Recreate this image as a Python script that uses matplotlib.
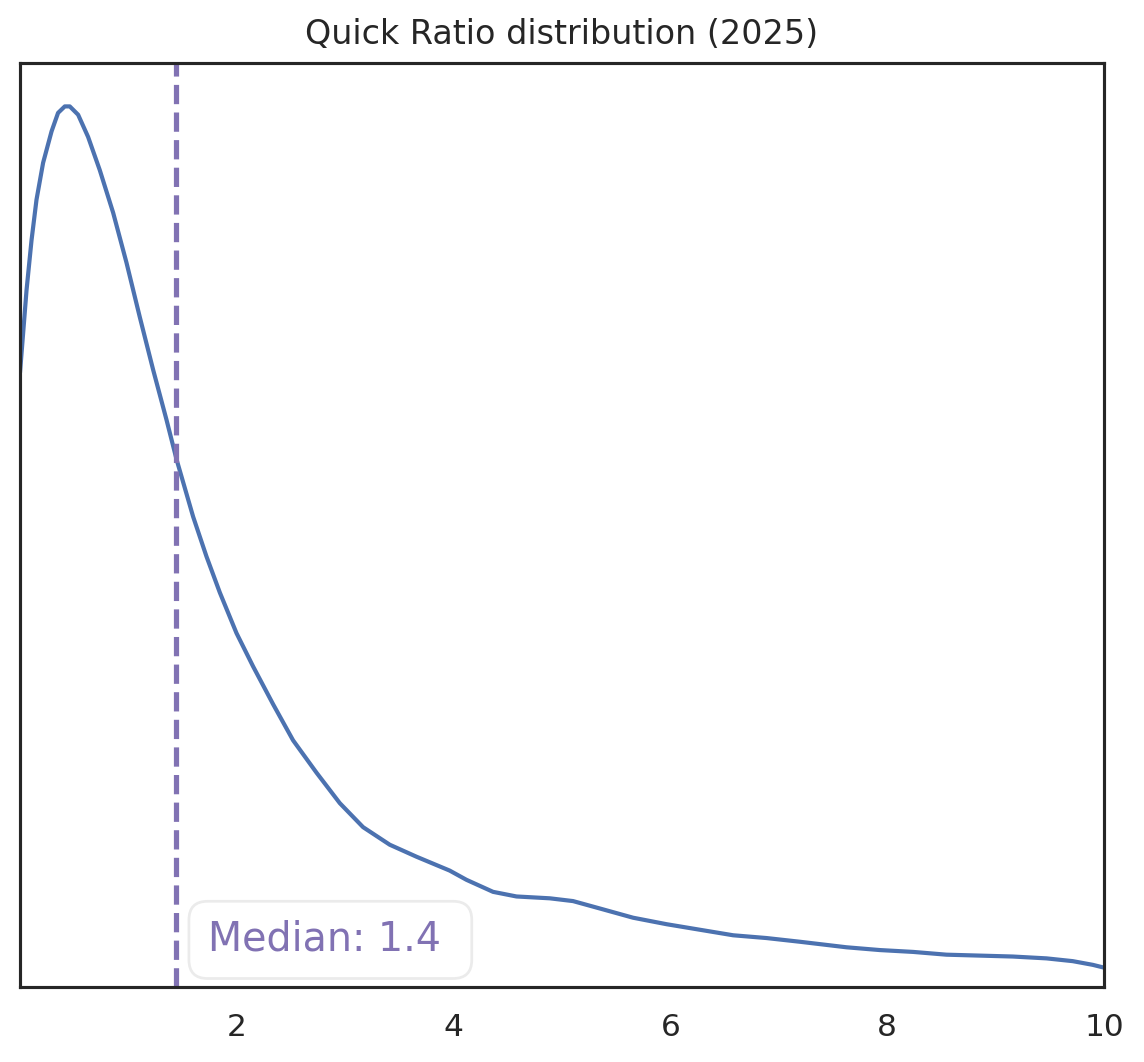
import matplotlib
matplotlib.use('Agg')
import matplotlib.pyplot as plt
import seaborn as sns

sns.set_theme(style='white')

# Curva de densidad (x = Quick Ratio, y = densidad relativa)
quick_ratio = [0.000, 0.060, 0.106, 0.152, 0.213, 0.291, 0.351, 0.413, 0.459, 0.536,
               0.628, 0.736, 0.859, 0.982, 1.105, 1.228, 1.351, 1.444, 1.597, 1.720,
               1.843, 1.997, 2.150, 2.335, 2.519, 2.735, 2.950, 3.165, 3.411, 3.658,
               3.964, 4.119, 4.364, 4.580, 4.888, 5.102, 5.349, 5.656, 5.964, 6.271,
               6.579, 6.887, 7.194, 7.625, 7.932, 8.239, 8.547, 8.854, 9.159, 9.470,
               9.712, 9.897, 10.000]
densidad = [0.665, 0.754, 0.808, 0.852, 0.892, 0.926, 0.946, 0.953, 0.953, 0.944,
            0.920, 0.884, 0.838, 0.784, 0.725, 0.668, 0.614, 0.571, 0.509, 0.466,
            0.427, 0.383, 0.347, 0.306, 0.267, 0.232, 0.199, 0.173, 0.154, 0.141,
            0.126, 0.116, 0.103, 0.098, 0.096, 0.093, 0.085, 0.075, 0.068, 0.062,
            0.056, 0.053, 0.049, 0.043, 0.040, 0.038, 0.035, 0.034, 0.033, 0.031,
            0.028, 0.024, 0.021]
mediana = 1.44
xticks = [2, 4, 6, 8, 10]

fig = plt.figure(figsize=(1144 / 150, 1062 / 150), dpi=150)
ax = fig.add_axes([0.0175, 0.0706, 0.9475, 0.8701])

ax.plot(quick_ratio, densidad, color='#4C72B0', linewidth=2)
ax.axvline(mediana, color='#8172B3', linestyle='--', linewidth=2.5)
ax.text(0.173, 0.051, f'Median: {mediana:.1f} ', transform=ax.transAxes,
        ha='left', va='center', fontsize=19, color='#8172B3',
        bbox=dict(boxstyle='round,pad=0.47', facecolor='white',
                  edgecolor='#ebebeb', linewidth=1.3))

ax.set_xlim(0, 10)
ax.set_ylim(0, 1)
ax.set_xticks(xticks)
ax.set_xticklabels([str(t) for t in xticks], fontsize=15)
ax.tick_params(axis='x', pad=6.5)
ax.set_yticks([])
for s in ax.spines.values():
    s.set_color('#262626')
    s.set_linewidth(1.5)
ax.set_title('Quick Ratio distribution (2025)', fontsize=16, color='#262626', pad=9)

fig.savefig('out.png', dpi=150, facecolor='white')
